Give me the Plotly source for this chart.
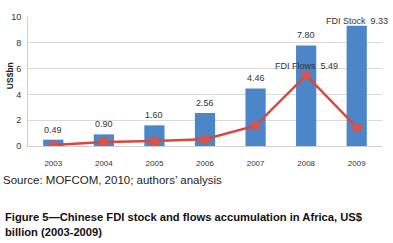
import plotly.graph_objects as go

years = ["2003", "2004", "2005", "2006", "2007", "2008", "2009"]
stock = [0.49, 0.90, 1.60, 2.56, 4.46, 7.80, 9.33]
flows = [0.075, 0.317, 0.392, 0.52, 1.57, 5.49, 1.44]
stock_labels = ["0.49", "0.90", "1.60", "2.56", "4.46", "7.80", "FDI Stock  9.33"]
flow_label_index = 5
flow_label = "FDI Flows  5.49"
y_ticks = [0, 2, 4, 6, 8, 10]

FONT = "Liberation Sans, Arial, sans-serif"

fig = go.Figure()
fig.add_trace(go.Bar(
    x=years, y=stock, marker_color="#4a86c8", width=0.4,
    marker_line_width=0, name="FDI Stock", showlegend=False,
))
fig.add_trace(go.Scatter(
    x=years, y=flows, mode="lines+markers", name="FDI Flows",
    line=dict(color="#d9483f", width=2.5),
    marker=dict(symbol="square", size=8.5, color="#d9544c"),
    showlegend=False,
))

annotations = []
for i, (v, t) in enumerate(zip(stock, stock_labels)):
    annotations.append(dict(
        x=i, y=v, xref="x", yref="y", text=t, showarrow=False,
        yshift=10 if i < len(years) - 1 else 5,
        font=dict(family=FONT, size=9, color="#333333"),
    ))
annotations.append(dict(
    x=flow_label_index, y=flows[flow_label_index], xref="x", yref="y",
    text=flow_label, showarrow=False, yshift=9,
    font=dict(family=FONT, size=9, color="#333333"),
))
# Y axis title
annotations.append(dict(
    x=-0.052, y=0.546, xref="paper", yref="paper", xanchor="center", yanchor="middle",
    text="<b>US$bn</b>", textangle=-90, showarrow=False,
    font=dict(family=FONT, size=8.5, color="#222222"),
))
# Source
annotations.append(dict(
    x=-0.075, y=-0.2636, xref="paper", yref="paper", xanchor="left", yanchor="middle",
    text="Source: MOFCOM, 2010; authors’ analysis", showarrow=False,
    font=dict(family=FONT, size=11.5, color="#222222"),
))
annotations.append(dict(
    x=-0.07, y=-0.55, xref="paper", yref="paper", xanchor="left", yanchor="middle",
    text="<b>Figure 5—Chinese FDI stock and flows accumulation in Africa, US$</b>",
    showarrow=False, font=dict(family=FONT, size=11.2, color="#111111"),
))
annotations.append(dict(
    x=-0.07, y=-0.667, xref="paper", yref="paper", xanchor="left", yanchor="middle",
    text="<b>billion (2003-2009)</b>",
    showarrow=False, font=dict(family=FONT, size=11.2, color="#111111"),
))

fig.update_layout(
    width=393, height=243,
    margin=dict(l=25, r=11, t=17, b=97),
    paper_bgcolor="white", plot_bgcolor="white",
    annotations=annotations,
    font=dict(family=FONT),
    xaxis=dict(
        type="category", range=[-0.5, 6.5], showgrid=False,
        showline=True, linecolor="#cfcfcf", linewidth=1,
        ticks="", ticklabelstandoff=9,
        tickfont=dict(family=FONT, size=8, color="#333333"),
    ),
    yaxis=dict(
        range=[0, 10], tickvals=y_ticks, showgrid=True, gridcolor="#d9d9d9",
        gridwidth=1, showline=True, linecolor="#cfcfcf", linewidth=1,
        zeroline=False, ticks="", ticklabelstandoff=4,
        tickfont=dict(family=FONT, size=9, color="#333333"),
    ),
)

fig.write_html(
    "out.html",
    config={"displayModeBar": False},
    post_script="document.body.style.margin='0';document.body.style.padding='0';",
)
